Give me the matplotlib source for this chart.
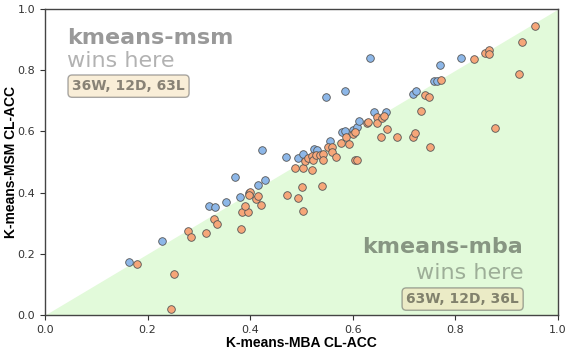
import matplotlib
matplotlib.use("Agg")
import matplotlib.pyplot as plt
import numpy as np

# kmeans-msm wins (blue)
msm_win_x = [0.164, 0.228, 0.320, 0.331, 0.353, 0.370, 0.380, 0.398, 0.415, 0.429,
             0.423, 0.470, 0.493, 0.503, 0.524, 0.530, 0.556, 0.579, 0.585, 0.600,
             0.608, 0.612, 0.641, 0.665, 0.548, 0.585, 0.634, 0.717, 0.723, 0.758,
             0.764, 0.770, 0.811]
msm_win_y = [0.173, 0.242, 0.356, 0.353, 0.369, 0.451, 0.386, 0.399, 0.425, 0.441,
             0.539, 0.516, 0.513, 0.526, 0.542, 0.539, 0.569, 0.598, 0.601, 0.605,
             0.614, 0.634, 0.663, 0.663, 0.712, 0.732, 0.840, 0.722, 0.732, 0.765,
             0.765, 0.817, 0.840]

# kmeans-mba wins (orange)
mba_win_x = [0.179, 0.251, 0.246, 0.279, 0.285, 0.314, 0.329, 0.335, 0.382, 0.384,
             0.396, 0.390, 0.400, 0.398, 0.411, 0.415, 0.421, 0.472, 0.493, 0.501,
             0.503, 0.540, 0.487, 0.503, 0.520, 0.507, 0.513, 0.520, 0.522, 0.528,
             0.536, 0.542, 0.542, 0.552, 0.559, 0.559, 0.567, 0.577, 0.587, 0.593,
             0.600, 0.604, 0.604, 0.608, 0.628, 0.630, 0.647, 0.647, 0.657, 0.661,
             0.667, 0.655, 0.686, 0.717, 0.721, 0.750, 0.733, 0.741, 0.749, 0.772,
             0.836, 0.858, 0.865, 0.865, 0.877, 0.924, 0.930, 0.955]
mba_win_y = [0.167, 0.134, 0.020, 0.275, 0.255, 0.268, 0.314, 0.297, 0.281, 0.337,
             0.337, 0.356, 0.402, 0.392, 0.379, 0.389, 0.359, 0.392, 0.382, 0.418,
             0.340, 0.422, 0.480, 0.480, 0.474, 0.503, 0.513, 0.520, 0.507, 0.523,
             0.523, 0.526, 0.507, 0.549, 0.549, 0.533, 0.516, 0.562, 0.582, 0.559,
             0.592, 0.598, 0.507, 0.507, 0.627, 0.631, 0.647, 0.627, 0.644, 0.650,
             0.608, 0.582, 0.582, 0.582, 0.595, 0.549, 0.667, 0.719, 0.712, 0.768,
             0.837, 0.856, 0.866, 0.853, 0.611, 0.788, 0.892, 0.944]

x_label = "K-means-MBA CL-ACC"
y_label = "K-means-MSM CL-ACC"
top_name = "kmeans-msm"
bottom_name = "kmeans-mba"
top_record = "36W, 12D, 63L"
bottom_record = "63W, 12D, 36L"
ticks = [0.0, 0.2, 0.4, 0.6, 0.8, 1.0]

fig = plt.figure(figsize=(5.65, 3.49), dpi=100)
ax = fig.add_axes([0.0796, 0.0974, 0.908, 0.8766])

ax.fill_between([0, 1], [0, 0], [0, 1], color="#E2FADA", zorder=0, linewidth=0)

ax.scatter(msm_win_x, msm_win_y, s=30, color="#8DB7E8", edgecolor="#555555",
           linewidth=0.6, zorder=3)
ax.scatter(mba_win_x, mba_win_y, s=30, color="#F6A679", edgecolor="#555555",
           linewidth=0.6, zorder=3)

ax.set_xlim(0, 1)
ax.set_ylim(0, 1)
ax.set_xticks(ticks)
ax.set_yticks(ticks)
ax.tick_params(labelsize=8, colors="#333333", length=3.5, width=0.8)
for sp in ax.spines.values():
    sp.set_color("#444444")
    sp.set_linewidth(1.0)

ax.set_xlabel(x_label, fontsize=10, fontweight="bold", family="Liberation Sans", labelpad=1)
ax.set_ylabel(y_label, fontsize=10, fontweight="bold", family="Liberation Sans", labelpad=0)

box = dict(boxstyle="round,pad=0.3", facecolor="wheat", alpha=0.5, edgecolor="#555555")

ax.text(0.043, 0.886, top_name, fontsize=16, fontweight="bold", color="black", alpha=0.4,
        ha="left", va="baseline", zorder=2)
ax.text(0.043, 0.810, "wins here", fontsize=16, color="black", alpha=0.3,
        ha="left", va="baseline", zorder=2)
ax.text(0.053, 0.735, top_record, fontsize=10, fontweight="bold", color="black", alpha=0.45,
        ha="left", va="baseline", bbox=box, zorder=2)

ax.text(0.932, 0.203, bottom_name, fontsize=16, fontweight="bold", color="black", alpha=0.4,
        ha="right", va="baseline", zorder=2)
ax.text(0.932, 0.118, "wins here", fontsize=16, color="black", alpha=0.3,
        ha="right", va="baseline", zorder=2)
ax.text(0.924, 0.039, bottom_record, fontsize=10, fontweight="bold", color="black", alpha=0.45,
        ha="right", va="baseline", bbox=box, zorder=2)

fig.savefig("out.png", dpi=100)
